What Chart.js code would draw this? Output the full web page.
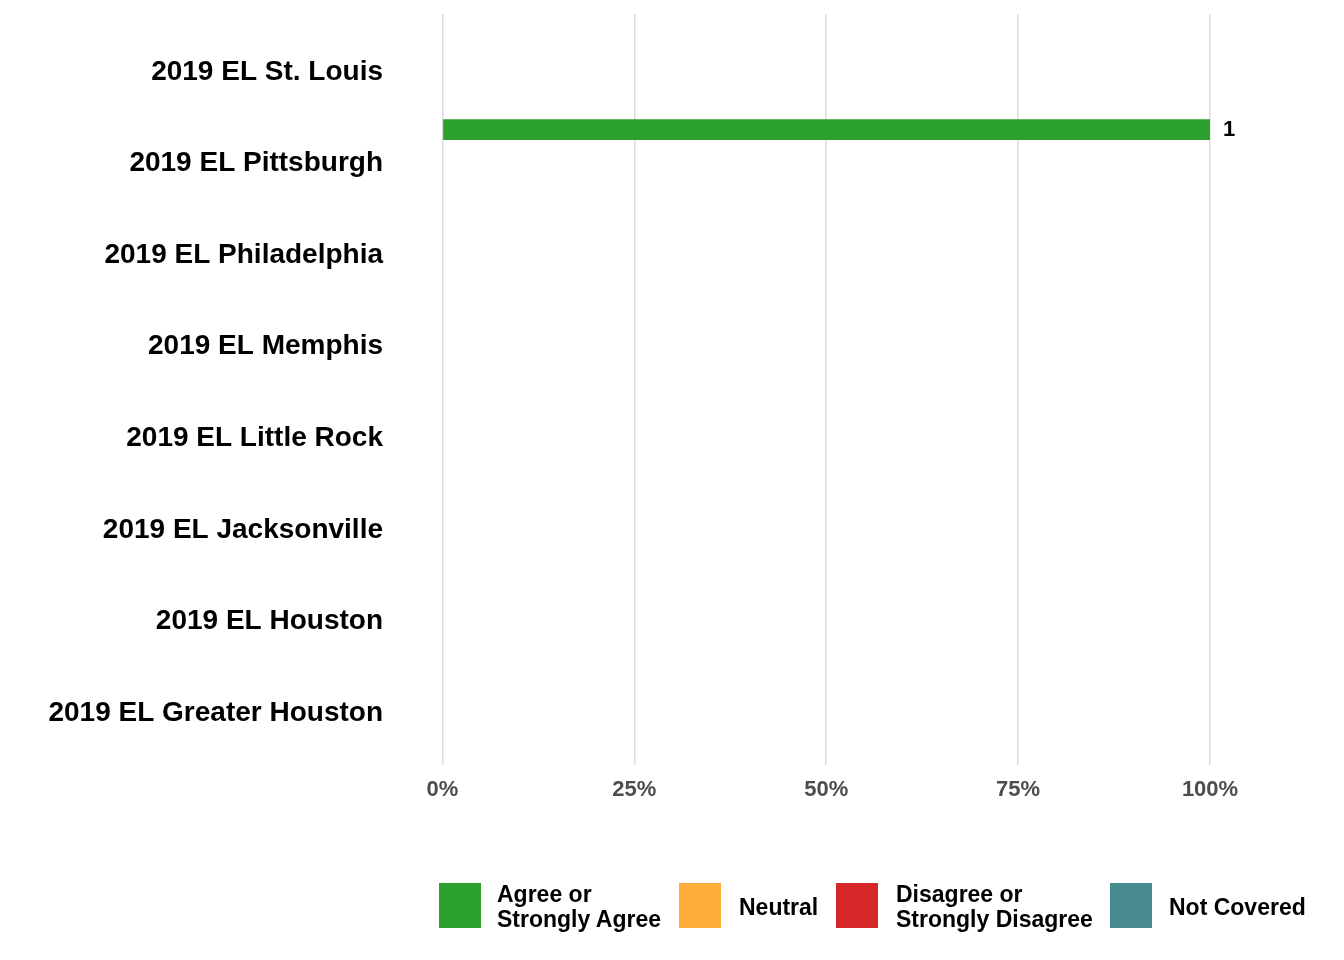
<!DOCTYPE html>
<html><head><meta charset="utf-8">
<script src="https://cdn.jsdelivr.net/npm/chart.js@4/dist/chart.umd.min.js"></script>
<style>
html,body{margin:0;padding:0;background:#fff}
#wrap{position:relative;width:1344px;height:960px}
#c{position:absolute;left:0;top:0}
.leg{position:absolute;font:bold 23px "Liberation Sans",Arial,sans-serif;color:#000;line-height:25px;white-space:nowrap}
.box{position:absolute;width:42px;height:45px;top:883px}
</style></head>
<body>
<div id="wrap">
<canvas id="c" width="1344" height="960" style="width:1344px;height:960px"></canvas>
<div class="box" style="left:439px;background:#2CA02C"></div>
<div class="leg" style="left:497px;top:882px">Agree or<br>Strongly Agree</div>
<div class="box" style="left:679px;background:#FEAD3A"></div>
<div class="leg" style="left:739px;top:895px">Neutral</div>
<div class="box" style="left:836px;background:#D62728"></div>
<div class="leg" style="left:896px;top:882px">Disagree or<br>Strongly Disagree</div>
<div class="box" style="left:1110px;background:#478A90"></div>
<div class="leg" style="left:1169px;top:895px">Not Covered</div>
</div>
<script>
const categories = ["2019 EL St. Louis","2019 EL Pittsburgh","2019 EL Philadelphia","2019 EL Memphis","2019 EL Little Rock","2019 EL Jacksonville","2019 EL Houston","2019 EL Greater Houston"];
const seriesNames = ["Agree or Strongly Agree","Neutral","Disagree or Strongly Disagree","Not Covered"];
const agreePct = [null,100,null,null,null,null,null,null];
const neutralPct = [null,null,null,null,null,null,null,null];
const disagreePct = [null,null,null,null,null,null,null,null];
const notCoveredPct = [null,null,null,null,null,null,null,null];
const agreeCount = [null,1,null,null,null,null,null,null];
const xTicks = [0,25,50,75,100];
const colors = ["#2CA02C","#FEAD3A","#D62728","#478A90"];

const FONT = "'Liberation Sans', Arial, sans-serif";
Chart.defaults.font.family = FONT;

function toPts(arr){ return arr.map((v,i)=>({x:v, y:i+1})); }
const seriesVals = [agreePct, neutralPct, disagreePct, notCoveredPct];

const labelPlugin = {
  id:'barLabels',
  afterDatasetsDraw(chart){
    const ctx = chart.ctx;
    const meta = chart.getDatasetMeta(0);
    ctx.save();
    ctx.font = "bold 22px " + FONT;
    ctx.fillStyle = "#000";
    ctx.textAlign = "left";
    ctx.textBaseline = "middle";
    meta.data.forEach((el,i)=>{
      if (agreeCount[i] != null && agreePct[i] != null) {
        ctx.fillText(String(agreeCount[i]), el.x + 13, el.y);
      }
    });
    ctx.restore();
  }
};

new Chart(document.getElementById('c'), {
  type:'bar',
  data:{
    datasets: seriesNames.map((n,k)=>({
      label:n, data:toPts(seriesVals[k]), backgroundColor:colors[k],
      borderWidth:0, barPercentage:1, categoryPercentage:0.9
    }))
  },
  options:{
    indexAxis:'y',
    responsive:false,
    animation:false,
    layout:{padding:{top:14,right:95.6,bottom:155,left:0}},
    plugins:{legend:{display:false}, tooltip:{enabled:false}},
    scales:{
      x:{
        type:'linear', min:-5, max:105, offset:false,
        afterBuildTicks(s){ s.ticks = xTicks.map(v=>({value:v})); },
        afterFit(s){ s.height = 40; s.paddingLeft = 0; s.paddingRight = 0; },
        ticks:{callback:v=>v+'%', font:{size:22, weight:'bold'}, color:'#4D4D4D', padding:12, maxRotation:0},
        grid:{color:'#DCDCDC', lineWidth:1.5, drawTicks:false, offset:false},
        border:{display:false}
      },
      y:{
        type:'linear', min:0.4, max:8.6, reverse:true, offset:false,
        afterBuildTicks(s){ s.ticks = categories.map((c,i)=>({value:i+1})); },
        afterFit(s){ s.width = 404; s.paddingTop = 0; s.paddingBottom = 0; },
        ticks:{callback:v=>categories[Math.round(v)-1], font:{size:28, weight:'bold'}, color:'#000', padding:21, autoSkip:false, labelOffset:3},
        grid:{display:false, drawTicks:false, offset:false},
        border:{display:false}
      }
    }
  },
  plugins:[labelPlugin]
});
</script>
</body></html>
